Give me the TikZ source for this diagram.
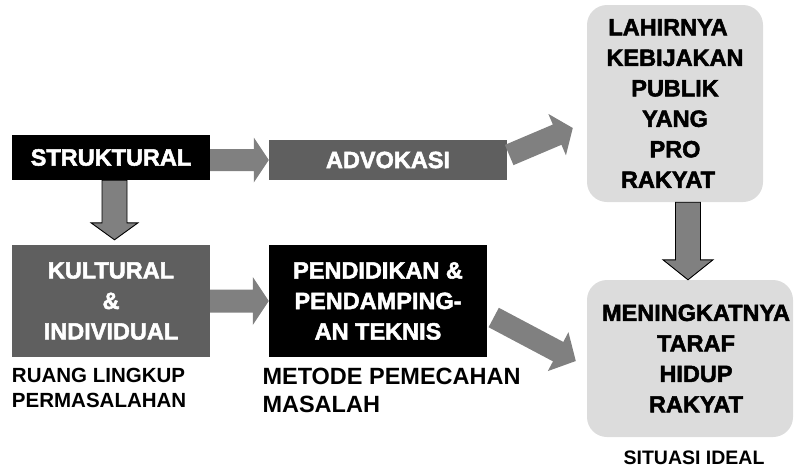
\documentclass[tikz,border=0pt]{standalone}
\usepackage{fontspec}
\setmainfont{Liberation Sans}
\newfontfamily\heavyfont[FakeBold=2.2]{Liberation Sans Bold}
\usetikzlibrary{calc}

\definecolor{darkgrey}{HTML}{5F5F5F}
\definecolor{arrowgrey}{HTML}{808080}
\definecolor{softgrey}{HTML}{DCDCDC}

\newcommand{\boxfont}{\heavyfont\fontsize{23.5}{30.5}\selectfont}
\newcommand{\blockarrow}[6][]{%
  \coordinate (ba-h) at ($(#3)!#6!(#2)$);
  \path[#1] ($(#2)!#4!90:(#3)$) -- ($(ba-h)!#4!90:(#3)$) -- ($(ba-h)!#5!90:(#3)$)
    -- (#3) -- ($(ba-h)!#5!-90:(#3)$) -- ($(ba-h)!#4!-90:(#3)$)
    -- ($(#2)!#4!-90:(#3)$) -- cycle;}

\tikzset{
  boxtext/.style={text=white, font=\boxfont, align=center, inner sep=0pt},
  darkbox/.style={boxtext, fill=darkgrey},
  blackbox/.style={boxtext, fill=black},
  softbox/.style={fill=softgrey, rounded corners=20pt, font=\boxfont, align=center, inner sep=0pt},
  caption/.style={font=\bfseries\fontsize{20.5}{25}\selectfont, align=left, inner sep=0pt},
  flatarrow/.style={fill=arrowgrey},
  edgearrow/.style={fill=arrowgrey, draw=black, line width=0.9pt, line join=miter},
}

\begin{document}
\begin{tikzpicture}[x=1pt, y=-1pt]
\useasboundingbox (0,0) rectangle (794,467);
\node[blackbox, minimum width=198pt, minimum height=45pt] (struk) at (111,157.5) {STRUKTURAL};
\node[darkbox, minimum width=238pt, minimum height=40pt] (advo) at (388,160) {ADVOKASI};
\node[darkbox, minimum width=198pt, minimum height=112pt] (kult) at (111,301) {KULTURAL\\\&\\INDIVIDUAL};
\node[blackbox, minimum width=218pt, minimum height=112pt] (pend) at (378,301) {PENDIDIKAN \&\\PENDAMPING-\\AN TEKNIS};
\node[softbox, minimum width=176pt, minimum height=197pt] (lahir) at (675,103.5) {LAHIRNYA\hspace*{14pt}\\KEBIJAKAN\hspace*{14pt}\\PUBLIK\hspace*{14pt}\\YANG\hspace*{14pt}\\PRO\hspace*{14pt}\\RAKYAT\hspace*{14pt}};
\node[softbox, minimum width=206pt, minimum height=157pt] (mening) at (690,358.5) {\hspace*{12pt}MENINGKATNYA\\\hspace*{12pt}TARAF\\\hspace*{12pt}HIDUP\\\hspace*{12pt}RAKYAT};

\node[caption, anchor=north west] (ruang) at ([yshift=-11pt]kult.south west) {RUANG LINGKUP\\PERMASALAHAN};
\node[caption, font=\bfseries\fontsize{23.5}{28}\selectfont, anchor=north west] (metode) at ([shift={(-6.5pt,-11pt)}]pend.south west) {METODE PEMECAHAN\\MASALAH};
\node[caption, font=\bfseries\fontsize{19.5}{24}\selectfont, anchor=north] (situ) at ([shift={(4pt,-13pt)}]mening.south) {SITUASI IDEAL};

\coordinate (a1s) at (advo.west -| struk.east);
\blockarrow[flatarrow]{a1s}{advo.west}{11pt}{22.5pt}{15pt}
\coordinate (a2s) at ([shift={(2pt,5pt)}]advo.east);
\coordinate (a2e) at ([shift={(-14pt,-24.5pt)}]lahir.west);
\blockarrow[flatarrow]{a2s}{a2e}{11pt}{22.5pt}{17pt}
\blockarrow[flatarrow]{kult.east}{pend.west}{11.5pt}{24pt}{16pt}
\coordinate (a4s) at ([shift={(6.5pt,-16.5pt)}]pend.east);
\coordinate (a4e) at ([shift={(-11pt,-2.5pt)}]mening.west);
\blockarrow[flatarrow]{a4s}{a4e}{11pt}{22pt}{20pt}

\coordinate (d1s) at ([xshift=3.5pt]struk.south);
\coordinate (d1e) at ($(d1s |- kult.north)+(0,-5)$);
\blockarrow[edgearrow]{d1s}{d1e}{12.5pt}{23.5pt}{17pt}
\coordinate (d2e) at ([xshift=-2pt]mening.north);
\coordinate (d2s) at (d2e |- lahir.south);
\blockarrow[edgearrow]{d2s}{d2e}{12.5pt}{25pt}{20pt}
\end{tikzpicture}
\end{document}
